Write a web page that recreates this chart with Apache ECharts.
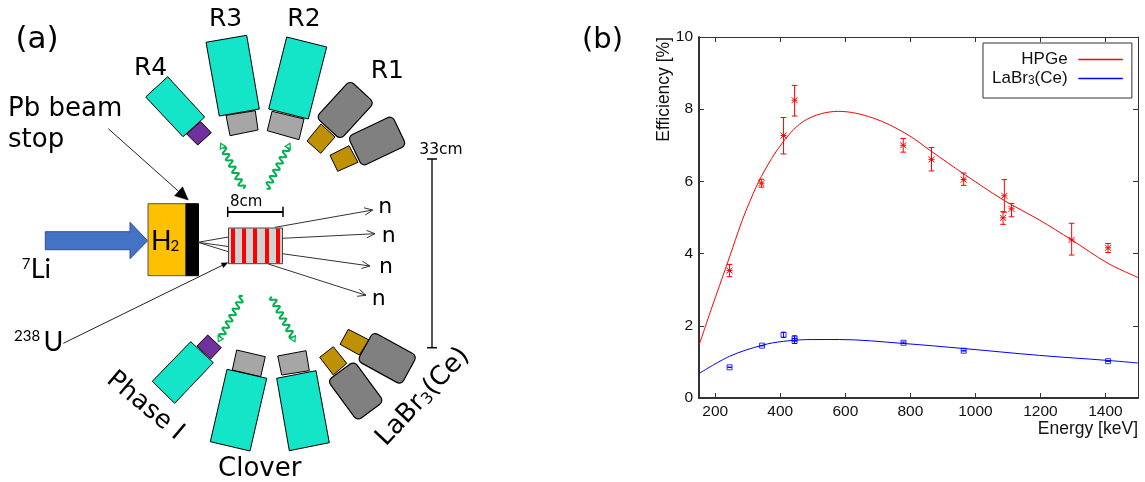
<!DOCTYPE html>
<html><head><meta charset="utf-8">
<style>html,body{margin:0;padding:0;background:#fff}#c{width:1145px;height:482px}</style>
<script src="https://cdn.jsdelivr.net/npm/echarts@6/dist/echarts.min.js"></script>
</head><body><div id="c"></div>
<script>
// ---- chart data ----
const xTicks = [200,400,600,800,1000,1200,1400];
const yTicks = [0,2,4,6,8,10];
const hpgeCurve = [[150,1.46],[190,2.52],[236,3.70],[271,4.62],[295,5.20],[342,6.14],[410,7.11],[480,7.71],[579,7.94],[684,7.76],[787,7.32],[865,6.83],[964,6.21],[1089,5.47],[1197,4.93],[1296,4.38],[1408,3.73],[1500,3.34]];
const labrCurve = [[150,0.675],[244,1.155],[344,1.46],[410,1.57],[500,1.62],[582,1.62],[779,1.51],[964,1.37],[1197,1.18],[1408,1.04],[1500,0.97]];
// energy, value, upper, lower
const hpgePoints = [[244,3.53,3.70,3.36],[342,5.95,6.06,5.84],[410,7.27,7.77,6.76],[444,8.25,8.66,7.81],[778,7.00,7.19,6.81],[865,6.61,6.94,6.29],[964,6.05,6.23,5.89],[1085,4.99,5.16,4.81],[1089,5.60,6.05,5.15],[1111,5.24,5.39,5.02],[1296,4.38,4.84,3.96],[1408,4.16,4.28,4.03]];
const labrPoints = [[244,0.85,0.855,0.845],[344,1.45,1.455,1.445],[410,1.75,1.82,1.68],[444,1.58,1.65,1.51],[444,1.65,1.72,1.58],[779,1.53,1.55,1.51],[964,1.31,1.32,1.30],[1408,1.02,1.025,1.015]];

const DJ = '"DejaVu Sans"', LS = '"Liberation Sans"', CAL = 'Lato';
const TEAL='#14e4c8', GREY='#a6a6a6', PURPLE='#7030a0', GOLD='#bf9000', DGREY='#808080';

function poly(pts, fill, stroke, lw){
  return {type:'polygon', shape:{points:pts}, style:{fill:fill||'none', stroke:stroke||'#000', lineWidth:lw==null?1:lw}, silent:true};
}
function line(pts, stroke, lw){
  return {type:'polyline', shape:{points:pts}, style:{fill:'none', stroke:stroke||'#000', lineWidth:lw==null?1:lw}, silent:true};
}
function rrect(cx,cy,w,h,deg,r,fill){
  return {type:'rect', x:cx, y:cy, rotation:deg*Math.PI/180, shape:{x:-w/2,y:-h/2,width:w,height:h,r:r}, style:{fill:fill,stroke:'#000',lineWidth:1.2}, silent:true};
}
// x, baseline y
function txt(x,y,t,size,fam){
  return {type:'text', x:x, y:y-0.3*size, silent:true, style:{text:t, fill:'#000', font:size+'px '+fam, align:'left', verticalAlign:'middle'}};
}
function arrowOpen(x0,y0,x1,y1,col){
  const a=Math.atan2(y1-y0,x1-x0), L=9, s=0.42;
  return [line([[x0,y0],[x1,y1]],col,1),
          line([[x1-L*Math.cos(a-s),y1-L*Math.sin(a-s)],[x1,y1],[x1-L*Math.cos(a+s),y1-L*Math.sin(a+s)]],col,1)];
}
function arrowSolid(x0,y0,x1,y1,L,hw){
  const a=Math.atan2(y1-y0,x1-x0), c=Math.cos(a), s=Math.sin(a);
  const bx=x1-L*c, by=y1-L*s;
  return [line([[x0,y0],[bx,by]],'#222',1), poly([[x1,y1],[bx-hw*s,by+hw*c],[bx+hw*s,by-hw*c]],'#000','#000',0.5)];
}
function wavy(x0,y0,x1,y1){
  // decorative gamma-ray squiggle
  const len=Math.hypot(x1-x0,y1-y0), ux=(x1-x0)/len, uy=(y1-y0)/len, nx=-uy, ny=ux;
  const pts=[], end=len-5, n=Math.round(end*1.5);
  for(let i=0;i<=n;i++){
    const t=i/n*end, w=2.8*Math.sin(t/end*Math.PI*2*6.5);
    pts.push([x0+ux*t+nx*w, y0+uy*t+ny*w]);
  }
  const bx=x0+ux*end, by=y0+uy*end;
  return [line(pts,'#00b050',2),
          poly([[x1,y1],[bx+nx*3,by+ny*3],[bx-nx*3,by-ny*3]],'#dff5e8','#00b050',1.2)];
}

const g = [];
// R detectors
g.push(poly([[206,42.3],[246.7,35.3],[259.3,109],[219.3,116]],TEAL));
g.push(poly([[226,115.3],[255.3,110.7],[258,130],[230,135.7]],GREY));
g.push(poly([[167.7,76.7],[204.7,117],[183,136.7],[145.7,97]],TEAL));
g.push(poly([[200.7,121.7],[211.3,132.7],[197.7,145],[186.7,134]],PURPLE));
g.push(poly([[286.7,37],[326.7,47],[308.3,119],[268.7,109]],TEAL));
g.push(poly([[272,111.3],[267.3,130.7],[299,139.7],[304,119]],GREY));
g.push(poly([[321,124],[335,137],[320.7,153.3],[307,141]],GOLD));
g.push(rrect(345.2,110,50,33,47.5,5,DGREY));
g.push(poly([[349,145.7],[358,162.3],[337.7,171.3],[330,155.3]],GOLD));
g.push(rrect(377.1,141,49,33,25.6,5,DGREY));
// lower detectors
g.push(poly([[190.7,341.7],[213.3,362.7],[174.7,403.3],[152.3,381.3]],TEAL));
g.push(poly([[207.7,335],[221.3,347.7],[210.7,359],[197,346]],PURPLE));
g.push(poly([[236.7,350],[265.3,356.7],[260.7,376.7],[232.3,370]],GREY));
g.push(poly([[227,369.3],[266.7,378.3],[250,451],[210.3,441.7]],TEAL));
g.push(poly([[277.7,356],[281.7,375],[309.3,370.7],[306,350.7]],GREY));
g.push(poly([[276.7,378.3],[316,370.7],[329.3,442.7],[289.3,450.7]],TEAL));
g.push(poly([[333.3,346.7],[346.7,363.3],[333.3,375],[319.7,357.3]],GOLD));
g.push(rrect(355.7,391,50,33,-53.6,5,DGREY));
g.push(poly([[348.3,329.3],[369,340],[359.3,355],[340,344.3]],GOLD));
g.push(rrect(387.2,358.3,50,33,-28.8,5,DGREY));
// gamma rays
g.push(...wavy(243.3,188.7,220.7,143.3), ...wavy(266.7,188.7,290,143.3), ...wavy(242.7,296,218.3,341.7), ...wavy(271.7,296.7,295,341.7));
// beam
g.push(poly([[45.3,231.7],[130,231.7],[130,222.3],[147.7,240.7],[130,258.7],[130,249.7],[45.3,249.7]],'#4472c4','#2f528f',1));
{const r=(x,y,w,h,f,s)=>({type:'rect',shape:{x,y,width:w,height:h},style:{fill:f,stroke:s||'none',lineWidth:1},silent:true});
 g.push(r(148,203.7,38,72,'#ffc000','#555'));
 g.push(r(186,203.7,12.5,72,'#000','#000'));
 // lines from the stop to the target, and outgoing neutrons
 g.push(line([[198,242.3],[228.3,237]],'#333'),line([[198,242.3],[228.3,246.5]],'#333'),line([[198,242.3],[228.3,251.7]],'#333'));
 g.push(r(228.5,228,54,35.7,'#d2d2d2','#444'));
 [231,242,253,265,276].forEach(x=>g.push(r(x,228.5,4,35,'#ff0000')));
 g.push(...arrowOpen(275,227.3,372.7,210,'#333'),...arrowOpen(282.3,238.3,375,233.7,'#333'),...arrowOpen(282.3,253.7,370,266,'#333'),...arrowOpen(268.3,264,366,295.3,'#333'));
}
// scale bars
g.push(line([[227.7,212],[283,212]],'#000',2),line([[227.7,206.7],[227.7,217]],'#000',1.5),line([[283,206.7],[283,217]],'#000',1.5));
g.push(line([[432,159],[432,347.7]],'#222',1.5),line([[427,159],[437,159]],'#000',1.5),line([[427,347.7],[437,347.7]],'#000',1.5));
// pointers
g.push(...arrowSolid(108.3,128.7,188.3,200,13,6), ...arrowSolid(63.3,343.3,227.7,262.7,6,2.5));
// labels
g.push(txt(15.5,49,'(a)',31,DJ), txt(582,49,'(b)',29,DJ));
g.push(txt(209,26.7,'R3',25,DJ), txt(134,76,'R4',25,DJ), txt(287.3,26.7,'R2',25,DJ), txt(370.7,79.3,'R1',25,DJ));
g.push(txt(8,117.3,'Pb beam',26,DJ), txt(8,148.3,'stop',26,DJ));
g.push(txt(230,207,'8cm',15,DJ), txt(419.3,155,'33cm',15.5,DJ));
g.push(txt(378.3,214,'n',22,DJ), txt(381.7,242.7,'n',22,DJ), txt(379,274,'n',22,DJ), txt(371.7,306,'n',22,DJ));
g.push(txt(151,249.3,'H',27,CAL), txt(170.5,250.7,'2',15,CAL));
g.push(txt(21.7,268.3,'7',15,CAL), txt(30.7,277.3,'Li',27,CAL));
g.push(txt(14,341,'238',15,CAL), txt(43.5,350,'U',27,CAL));
g.push({type:'text',x:145,y:406,rotation:-40*Math.PI/180,silent:true,style:{text:'Phase I',fill:'#000',font:'25.5px '+DJ,align:'center',verticalAlign:'middle'}});
g.push(txt(218,477,'Clover',26,DJ));
g.push({type:'text',x:423,y:397,rotation:47*Math.PI/180,silent:true,style:{text:'{a|LaBr}{b|3}{a|(Ce)}',fill:'#000',align:'center',verticalAlign:'middle',
  rich:{a:{font:'26px '+DJ,fill:'#000',verticalAlign:'bottom'},b:{font:'16px '+DJ,fill:'#000',verticalAlign:'bottom'}}}});

function errItem(color,star){
  return function(params, api){
    const x=api.value(0), top=api.coord([x,api.value(2)]), bot=api.coord([x,api.value(3)]), m=api.coord([x,api.value(1)]);
    const cap=star?2.8:2.2, st={stroke:color,lineWidth:1,fill:'none'}, ln=(a,b,c,d)=>({type:'line',shape:{x1:a,y1:b,x2:c,y2:d},style:st});
    const ch=[ln(top[0],top[1],bot[0],bot[1]),ln(top[0]-cap,top[1],top[0]+cap,top[1]),ln(bot[0]-cap,bot[1],bot[0]+cap,bot[1])];
    if(star){const r=3;ch.push(ln(m[0]-r,m[1],m[0]+r,m[1]),ln(m[0]-r,m[1]-r,m[0]+r,m[1]+r),ln(m[0]-r,m[1]+r,m[0]+r,m[1]-r));}
    return {type:'group',children:ch};
  };
}
const AXC='#333';
const plainLabel = v=>String(v);
const hiddenAxis = ()=>({type:'value',axisLine:{show:true,onZero:false,lineStyle:{color:AXC,width:1}},splitLine:{show:false},axisLabel:{show:false}});
const LEG_ICON='path://M0 0H44V1H0Z';
const chart=echarts.init(document.getElementById('c'),null,{renderer:'canvas'});
chart.setOption({
  animation:false,
  backgroundColor:'#fff',
  textStyle:{fontFamily:LS},
  grid:{left:699,right:7,top:37,bottom:84,containLabel:false,outerBoundsMode:'none'},
  legend:{
    data:[{name:'HPGe',icon:LEG_ICON,itemStyle:{color:'#ff0000',borderColor:'#ff0000',borderWidth:0.5}},
          {name:'LaBr3(Ce)',icon:LEG_ICON,itemStyle:{color:'#0000ff',borderColor:'#0000ff',borderWidth:0.5}}],
    orient:'vertical',align:'right',left:983,top:43,
    padding:[8,9,11,9],itemGap:2,itemWidth:44,itemHeight:14,borderWidth:1,borderColor:'#333',backgroundColor:'#fff',
    selectedMode:false,
    textStyle:{fontFamily:LS,fontSize:17,lineHeight:17,color:'#111',padding:[0,6,0,0],
      rich:{s:{fontFamily:LS,fontSize:12,lineHeight:17,color:'#111',verticalAlign:'bottom'},n:{fontFamily:LS,fontSize:17,lineHeight:17,color:'#111'}}},
    formatter:n=>n==='HPGe'?'HPGe':'{n|LaBr}{s|3}{n|(Ce)}'
  },
  xAxis:[
    {type:'value',min:150,max:1500,position:'bottom',
     name:'Energy [keV]',nameLocation:'end',nameGap:0,nameMoveOverlap:false,
     nameTextStyle:{fontFamily:LS,fontSize:17.5,color:'#111',align:'right',verticalAlign:'top',padding:[22,0,0,0]},
     axisLine:{show:true,onZero:false,lineStyle:{color:AXC,width:2}},
     axisTick:{show:true,inside:true,length:5,lineStyle:{color:AXC,width:1},customValues:xTicks},
     axisLabel:{show:true,fontFamily:LS,fontSize:15.5,color:'#111',margin:6,customValues:xTicks,formatter:plainLabel},
     splitLine:{show:false}},
    Object.assign(hiddenAxis(),{min:150,max:1500,position:'top',
     axisTick:{show:true,inside:true,length:5,lineStyle:{color:AXC,width:1},customValues:xTicks}})
  ],
  yAxis:[
    {type:'value',min:0,max:10,position:'left',
     name:'Efficiency [%]',nameLocation:'end',nameRotate:90,nameGap:0,nameMoveOverlap:false,
     nameTextStyle:{fontFamily:LS,fontSize:17.5,color:'#111',align:'right',verticalAlign:'bottom',padding:[0,0,26,0]},
     axisLine:{show:true,onZero:false,lineStyle:{color:AXC,width:2}},
     axisTick:{show:true,inside:true,length:5,lineStyle:{color:AXC,width:1},customValues:yTicks},
     axisLabel:{show:true,fontFamily:LS,fontSize:15.5,color:'#111',margin:6,customValues:yTicks,formatter:plainLabel},
     splitLine:{show:false}},
    Object.assign(hiddenAxis(),{min:0,max:10,position:'right',
     axisTick:{show:true,inside:true,length:5,lineStyle:{color:AXC,width:1},customValues:yTicks}})
  ],
  series:[
    {name:'HPGe',type:'line',smooth:0.35,symbol:'none',data:hpgeCurve,itemStyle:{color:'#ff0000'},lineStyle:{color:'#ff0000',width:1},clip:true},
    {name:'LaBr3(Ce)',type:'line',smooth:0.35,symbol:'none',data:labrCurve,itemStyle:{color:'#0000ff'},lineStyle:{color:'#0000ff',width:1},clip:true},
    {name:'HPGe pts',type:'custom',renderItem:errItem('#ff0000',true),data:hpgePoints,encode:{x:0,y:[1,2,3]},z:3},
    {name:'LaBr err',type:'custom',renderItem:errItem('#0000ff',false),data:labrPoints,encode:{x:0,y:[1,2,3]},z:3},
    {name:'LaBr pts',type:'scatter',data:labrPoints.map(p=>[p[0],p[1]]),symbol:'rect',symbolSize:5,
      itemStyle:{color:'none',borderColor:'#0000ff',borderWidth:1},z:4}
  ],
  graphic:{elements:g}
});
</script></body></html>
